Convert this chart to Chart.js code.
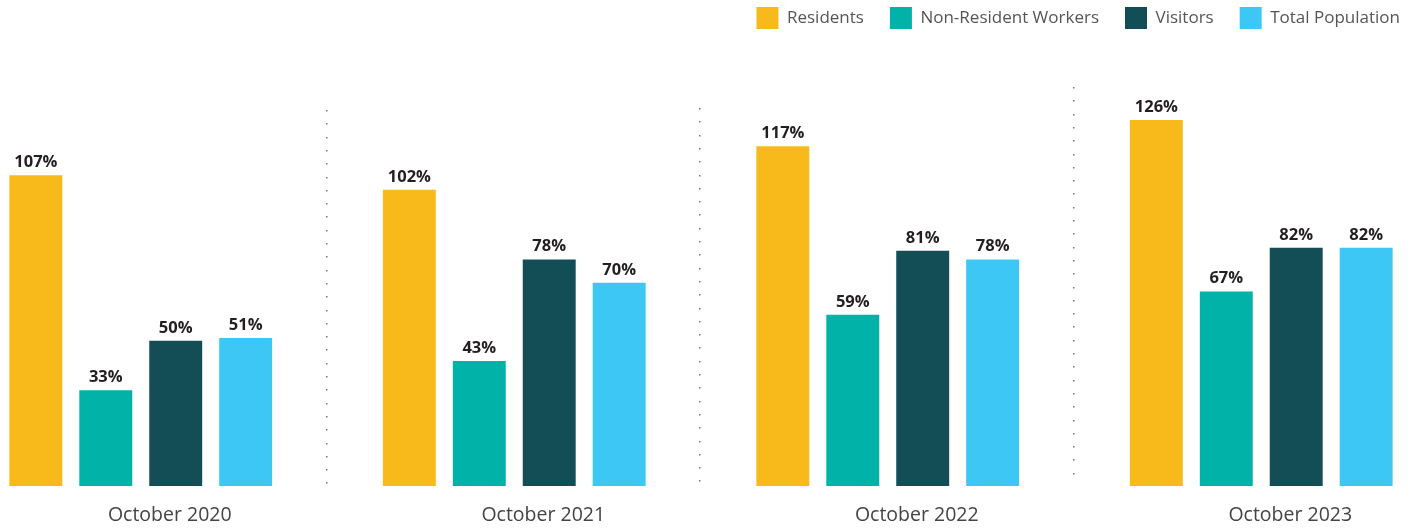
<!DOCTYPE html>
<html>
<head>
<meta charset="utf-8">
<script src="https://cdn.jsdelivr.net/npm/chart.js@4"></script>
<style>
  html, body { margin: 0; padding: 0; background: #fff; overflow: hidden; }
  body { width: 1416px; height: 529px; position: relative; }
  #wrap { position: absolute; left: -46px; top: 0; width: 1494px; height: 529px; }
</style>
</head>
<body>
<div id="wrap"><canvas id="popChart"></canvas></div>
<script>
// data (percent of pre-pandemic levels)
const periods = ['October 2020', 'October 2021', 'October 2022', 'October 2023'];
const residents = [107, 102, 117, 126];
const nonResidentWorkers = [33, 43, 59, 67];
const visitors = [50, 78, 81, 82];
const totalPopulation = [51, 70, 78, 82];

const colors = ['#F8B91A', '#00B2A8', '#134D55', '#3DC7F4'];
const sepTops = [110, 108, 87];

// value labels above each bar
const barLabels = {
  id: 'barLabels',
  afterDatasetsDraw(chart) {
    const ctx = chart.ctx;
    ctx.save();
    ctx.font = 'bold 16.5px "Open Sans", sans-serif';
    ctx.fillStyle = '#231f20';
    ctx.textAlign = 'center';
    ctx.textBaseline = 'alphabetic';
    chart.data.datasets.forEach((ds, i) => {
      chart.getDatasetMeta(i).data.forEach((bar, j) => {
        ctx.fillText(ds.data[j] + '%', bar.x, bar.y - 8);
      });
    });
    ctx.restore();
  }
};

// dotted dividers between the periods
const dividers = {
  id: 'dividers',
  beforeDatasetsDraw(chart) {
    const ctx = chart.ctx;
    const x = chart.scales.x;
    const bottom = chart.chartArea.bottom;
    const half = (x.getPixelForValue(1) - x.getPixelForValue(0)) / 2;
    ctx.save();
    ctx.fillStyle = '#777';
    for (let i = 0; i < periods.length - 1; i++) {
      const px = Math.round(x.getPixelForValue(i) + half) - 2;
      for (let y = sepTops[i]; y < bottom; y += 13.3) {
        ctx.fillRect(px, Math.round(y), 1.5, 1.5);
      }
    }
    ctx.restore();
  }
};

// move the legend in from the right edge and up to the top
const legendShift = {
  id: 'legendShift',
  afterLayout(chart) {
    chart.legend.right -= 22;
    chart.legend.top -= 23;
  }
};

const makeSet = (label, data, i) => ({
  label: label,
  data: data,
  backgroundColor: colors[i],
  borderWidth: 0,
  categoryPercentage: 0.749,
  barPercentage: 0.757
});

new Chart(document.getElementById('popChart'), {
  type: 'bar',
  data: {
    labels: periods,
    datasets: [
      makeSet('Residents', residents, 0),
      makeSet('Non-Resident Workers', nonResidentWorkers, 1),
      makeSet('Visitors', visitors, 2),
      makeSet('Total Population', totalPopulation, 3)
    ]
  },
  options: {
    responsive: true,
    maintainAspectRatio: false,
    animation: false,
    layout: { padding: { top: 4, left: 0, right: 0, bottom: 0 } },
    plugins: {
      legend: {
        position: 'top',
        align: 'end',
        labels: {
          boxWidth: 22,
          boxHeight: 22,
          padding: 26,
          color: '#555',
          font: { family: '"Open Sans", sans-serif', size: 17 }
        }
      },
      tooltip: { enabled: false }
    },
    scales: {
      x: {
        grid: { display: false },
        border: { display: false },
        afterFit(scale) { scale.height = 43; },
        ticks: {
          labelOffset: 29,
          padding: 10,
          color: '#444',
          font: { family: '"Open Sans", sans-serif', size: 19.5 }
        }
      },
      y: {
        display: false,
        min: 0,
        max: 146
      }
    }
  },
  plugins: [barLabels, dividers, legendShift]
});
</script>
</body>
</html>
